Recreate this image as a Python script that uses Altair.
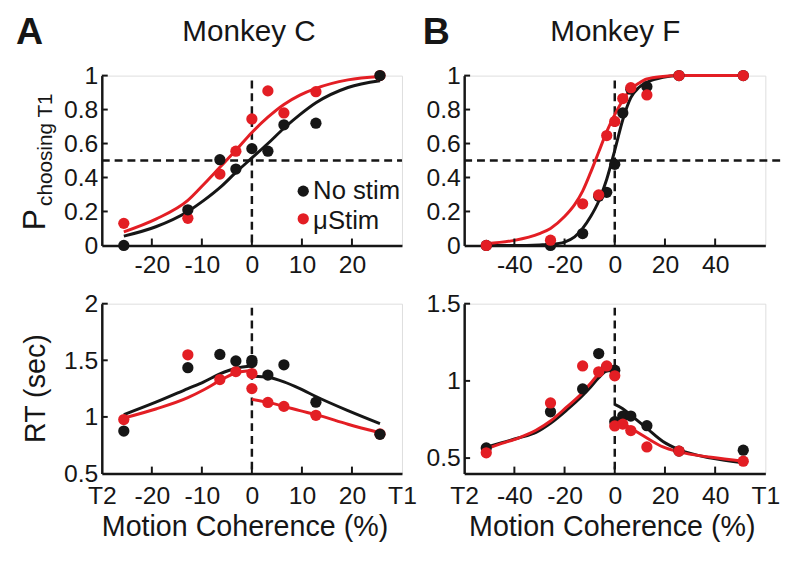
import altair as alt
import pandas as pd

FONT = "Liberation Sans"
BLACK = "#161616"
RED = "#e31e24"
COND = ["No stim", "μStim"]

# ---------------- Monkey C : choice ----------------
coh_C = [-25.6, -12.8, -6.4, -3.2, 0, 3.2, 6.4, 12.8, 25.6]
pC_nostim = [0.0, 0.21, 0.505, 0.45, 0.57, 0.555, 0.71, 0.72, 1.0]
pC_stim = [0.13, 0.16, 0.42, 0.555, 0.745, 0.91, 0.78, 0.905, 1.0]
fitC_x = [-25.6, -19.2, -12.8, -9.6, -6.4, -3.2, 0, 3.2, 6.4, 9.6, 12.8, 19.2, 25.6]
fitC_nostim = [0.055, 0.11, 0.2, 0.265, 0.34, 0.43, 0.515, 0.6, 0.69, 0.77, 0.84, 0.93, 0.97]
fitC_stim = [0.08, 0.155, 0.265, 0.36, 0.46, 0.56, 0.665, 0.755, 0.83, 0.885, 0.925, 0.975, 0.995]

# ---------------- Monkey F : choice ----------------
coh_F = [-51.2, -25.6, -12.8, -6.4, -3.2, 0, 3.2, 6.4, 12.8, 25.6, 51.2]
pF_nostim = [0.0, 0.0, 0.07, 0.29, 0.313, 0.478, 0.78, 0.92, 0.935, 1.0, 1.0]
pF_stim = [0.0, 0.031, 0.245, 0.297, 0.647, 0.73, 0.865, 0.929, 0.886, 1.0, 1.0]
fitF_x = [-51.2, -40, -30, -25.6, -20, -16, -12.8, -9.6, -6.4, -3.2, 0, 3.2, 6.4, 9.6, 12.8, 19.2, 25.6, 38.4, 51.2]
fitF_nostim = [0.0, 0.0, 0.003, 0.006, 0.02, 0.05, 0.1, 0.17, 0.26, 0.39, 0.56, 0.74, 0.87, 0.93, 0.96, 0.99, 1.0, 1.0, 1.0]
fitF_stim = [0.01, 0.03, 0.07, 0.1, 0.17, 0.24, 0.32, 0.43, 0.55, 0.67, 0.77, 0.855, 0.92, 0.955, 0.98, 0.995, 1.0, 1.0, 1.0]

# ---------------- Monkey C : RT ----------------
cohL_C = [-25.6, -12.8, -6.4, -3.2, 0]
cohR_C = [0, 3.2, 6.4, 12.8, 25.6]
rtC_nostim_L = [0.875, 1.435, 1.552, 1.494, 1.5]
rtC_nostim_R = [1.48, 1.37, 1.46, 1.13, 0.846]
rtC_stim_L = [0.977, 1.549, 1.33, 1.40, 1.383]
rtC_stim_R = [1.25, 1.128, 1.093, 1.014, 0.85]
fitC_L_x = [-25.6, -19.2, -12.8, -9.6, -6.4, -3.2, 0]
fitC_rt_nostim_L = [1.02, 1.13, 1.25, 1.31, 1.38, 1.43, 1.45]
fitC_rt_stim_L = [0.99, 1.07, 1.17, 1.24, 1.32, 1.39, 1.41]
fitC_R_x = [0, 3.2, 6.4, 9.6, 12.8, 19.2, 25.6]
fitC_rt_nostim_R = [1.36, 1.35, 1.31, 1.25, 1.18, 1.055, 0.94]
fitC_rt_stim_R = [1.155, 1.128, 1.093, 1.055, 1.02, 0.935, 0.86]

# ---------------- Monkey F : RT ----------------
cohL_F = [-51.2, -25.6, -12.8, -6.4, -3.2, 0]
cohR_F = [0, 3.2, 6.4, 12.8, 25.6, 51.2]
rtF_nostim_L = [0.566, 0.80, 0.948, 1.177, 1.09, 1.069]
rtF_nostim_R = [0.736, 0.772, 0.772, 0.71, 0.545, 0.551]
rtF_stim_L = [0.534, 0.857, 1.097, 1.059, 1.097, 1.033]
rtF_stim_R = [0.708, 0.72, 0.678, 0.572, 0.545, 0.48]
fitF_L_x = [-51.2, -45, -38.4, -31.4, -25.6, -19.2, -12.8, -9.6, -6.4, -3.2, 0]
fitF_rt_nostim_L = [0.57, 0.6, 0.63, 0.666, 0.725, 0.81, 0.905, 0.96, 1.02, 1.065, 1.075]
fitF_rt_stim_L = [0.56, 0.595, 0.63, 0.68, 0.74, 0.83, 0.925, 0.985, 1.045, 1.08, 1.095]
fitF_R_x = [0, 3.2, 6.4, 12.8, 19.2, 25.6, 38.4, 51.2]
fitF_rt_nostim_R = [0.848, 0.82, 0.778, 0.693, 0.608, 0.555, 0.50, 0.47]
fitF_rt_stim_R = [0.736, 0.725, 0.693, 0.63, 0.572, 0.54, 0.505, 0.48]

# axis tick labels
p_labels = [0, 0.2, 0.4, 0.6, 0.8, 1]
p_ticks = [0.2, 0.4, 0.6, 0.8, 1]
rtC_labels = [0.5, 1, 1.5, 2]
rtC_ticks = [1, 1.5, 2]
rtF_labels = [0.5, 1, 1.5]
rtF_ticks = [0.5, 1, 1.5]
xC_ticks = [-20, -10, 0, 10, 20]
xF_ticks = [-40, -20, 0, 20, 40]


def frame(xs, ys, cond, branch="a"):
    return pd.DataFrame({"x": xs, "y": ys, "cond": cond, "key": cond + branch})


COLOR = alt.Color("cond:N", scale=alt.Scale(domain=COND, range=[BLACK, RED]), legend=None)
ONE = pd.DataFrame({"z": [0]})


def text(t, x, y, size, angle=0, align="center", weight="normal", color=BLACK):
    kw = dict(text=t, fontSize=size, font=FONT, align=align, baseline="alphabetic",
              fontWeight=weight, color=color)
    if angle:
        kw["angle"] = angle
    return alt.Chart(ONE).mark_text(**kw).encode(x=alt.value(x), y=alt.value(y))


def panel(pts, fits, xdom, ydom, xticks, yticks, ylab_vals, xlab_vals, xlab_expr, W, H,
          hline, hline_x2, vtop, extras, xpad):
    ax_x = alt.Axis(values=xlab_vals, labelExpr=xlab_expr, ticks=False, tickSize=0,
                    domainColor=BLACK, domainWidth=2.5, labelFontSize=25, labelFont=FONT,
                    labelColor=BLACK, labelPadding=xpad, labelFlush=False, labelOverlap=False,
                    grid=False, title=None)
    ax_y = alt.Axis(values=ylab_vals, labelExpr="'' + datum.value", ticks=False, tickSize=0,
                    domainColor=BLACK, domainWidth=2.5, labelFontSize=25, labelFont=FONT,
                    labelColor=BLACK, labelPadding=4, labelFlush=False, labelOverlap=False,
                    grid=False, title=None)
    xsc = alt.Scale(domain=xdom, nice=False, zero=False)
    ysc = alt.Scale(domain=ydom, nice=False, zero=False)

    def X(f):
        return alt.X(f"{f}:Q", scale=xsc, axis=ax_x, title=None)

    def Y(f):
        return alt.Y(f"{f}:Q", scale=ysc, axis=ax_y, title=None)

    layers = []
    layers.append(alt.Chart(ONE).mark_rule(color=BLACK, strokeWidth=2.5, strokeDash=[8, 5])
                  .encode(x=X("z"), y=alt.value(vtop), y2=alt.value(H)))
    if hline is not None:
        layers.append(alt.Chart(pd.DataFrame({"h": [hline]}))
                      .mark_rule(color=BLACK, strokeWidth=2.5, strokeDash=[8, 5])
                      .encode(y=Y("h"), x=alt.value(0), x2=alt.value(hline_x2)))
    layers.append(alt.Chart(fits).mark_line(strokeWidth=3, interpolate="monotone")
                  .encode(x=X("x"), y=Y("y"), color=COLOR, detail="key:N"))
    layers.append(alt.Chart(pts).mark_circle(size=130, opacity=1)
                  .encode(x=X("x"), y=Y("y"), color=COLOR))
    layers.append(alt.Chart(pd.DataFrame({"t": xticks})).mark_rule(color=BLACK, strokeWidth=2)
                  .encode(x=X("t"), y=alt.value(H), y2=alt.value(H - 7)))
    layers.append(alt.Chart(pd.DataFrame({"t": yticks})).mark_rule(color=BLACK, strokeWidth=2)
                  .encode(y=Y("t"), x=alt.value(0), x2=alt.value(6)))
    layers.extend(extras)
    return alt.layer(*layers).properties(width=W, height=H)


WA, WB, H = 304, 305, 172
plain = "'' + datum.value"

# ---- panel A top ----
ptsA = pd.concat([frame(coh_C, pC_stim, "μStim"), frame(coh_C, pC_nostim, "No stim")])
fitA = pd.concat([frame(fitC_x, fitC_nostim, "No stim"), frame(fitC_x, fitC_stim, "μStim")])
extrasA = [
    text("A", -87, -32, 38, align="left", weight="bold"),
    text("Monkey C", 149, -35, 30),
    text("P", -58, 146, 32, angle=270),
    text("choosing T1", -50, 132, 21, angle=270, align="left"),
    alt.Chart(ONE).mark_circle(size=130, opacity=1, color=BLACK).encode(x=alt.value(204), y=alt.value(117)),
    alt.Chart(ONE).mark_circle(size=130, opacity=1, color=RED).encode(x=alt.value(204), y=alt.value(145)),
    text("No stim", 214, 125, 26, align="left"),
    text("μStim", 214, 155, 26, align="left"),
]
A_top = panel(ptsA, fitA, [-30, 30], [0, 1], xC_ticks, p_ticks, p_labels,
              xC_ticks, plain, WA, H, 0.5, WA, 5, extrasA, 7)

# ---- panel B top ----
ptsB = pd.concat([frame(coh_F, pF_nostim, "No stim"), frame(coh_F, pF_stim, "μStim")])
fitB = pd.concat([frame(fitF_x, fitF_nostim, "No stim"), frame(fitF_x, fitF_stim, "μStim")])
extrasB = [
    text("B", -42, -32, 38, align="left", weight="bold"),
    text("Monkey F", 153, -35, 30),
]
B_top = panel(ptsB, fitB, [-60, 60], [0, 1], xF_ticks, p_ticks, p_labels,
              xF_ticks, plain, WB, H, 0.5, WB + 20, 5, extrasB, 7)

# ---- panel A bottom ----
ptsC = pd.concat([
    frame(cohL_C, rtC_stim_L, "μStim", "L"), frame(cohR_C, rtC_stim_R, "μStim", "R"),
    frame(cohL_C, rtC_nostim_L, "No stim", "L"), frame(cohR_C, rtC_nostim_R, "No stim", "R"),
])
fitCrt = pd.concat([
    frame(fitC_L_x, fitC_rt_nostim_L, "No stim", "L"), frame(fitC_R_x, fitC_rt_nostim_R, "No stim", "R"),
    frame(fitC_L_x, fitC_rt_stim_L, "μStim", "L"), frame(fitC_R_x, fitC_rt_stim_R, "μStim", "R"),
])
exprA = "datum.value == -30 ? 'T2' : (datum.value == 30 ? 'T1' : '' + datum.value)"
extrasC = [
    text("RT (sec)", -58, 86, 29, angle=270),
    text("Motion Coherence (%)", 145, 235, 29),
]
A_bot = panel(ptsC, fitCrt, [-30, 30], [0.5, 2], xC_ticks, rtC_ticks, rtC_labels,
              [-30, -20, -10, 0, 10, 20, 30], exprA, WA, H, None, 0, 4, extrasC, 10)

# ---- panel B bottom ----
ptsD = pd.concat([
    frame(cohL_F, rtF_nostim_L, "No stim", "L"), frame(cohR_F, rtF_nostim_R, "No stim", "R"),
    frame(cohL_F, rtF_stim_L, "μStim", "L"), frame(cohR_F, rtF_stim_R, "μStim", "R"),
])
fitFrt = pd.concat([
    frame(fitF_L_x, fitF_rt_nostim_L, "No stim", "L"), frame(fitF_R_x, fitF_rt_nostim_R, "No stim", "R"),
    frame(fitF_L_x, fitF_rt_stim_L, "μStim", "L"), frame(fitF_R_x, fitF_rt_stim_R, "μStim", "R"),
])
exprB = "datum.value == -60 ? 'T2' : (datum.value == 60 ? 'T1' : '' + datum.value)"
extrasD = [text("Motion Coherence (%)", 150, 235, 29)]
B_bot = panel(ptsD, fitFrt, [-60, 60], [0.4, 1.5], xF_ticks, rtF_ticks, rtF_labels,
              [-60, -40, -20, 0, 20, 40, 60], exprB, WB, H, None, 0, 4, extrasD, 10)

chart = (
    alt.concat(A_top, B_top, A_bot, B_bot, columns=2,
               spacing={"row": 59, "column": 63}, bounds="flush")
    .properties(padding={"left": 7, "top": 2, "right": 5, "bottom": 5}, background="white")
    .configure_view(stroke=None)
    .configure(font=FONT)
)

chart.save("out.html", embed_options={"renderer": "svg", "actions": False})
